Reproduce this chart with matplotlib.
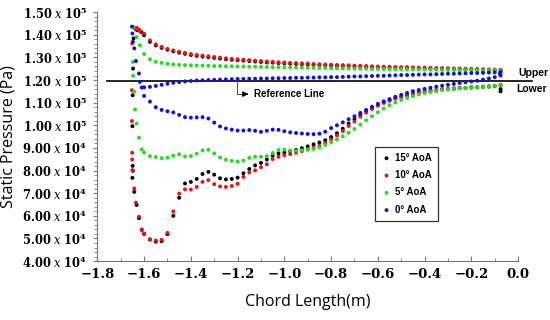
import matplotlib
matplotlib.use("Agg")
import matplotlib.pyplot as plt
from matplotlib.ticker import MultipleLocator, FuncFormatter

# chord positions (m) shared by the body of every curve
x_body = [-1.600, -1.575, -1.550, -1.525, -1.500, -1.475, -1.450, -1.425, -1.400, -1.375,
          -1.350, -1.325, -1.300, -1.275, -1.250, -1.225, -1.200, -1.175, -1.150, -1.125,
          -1.100, -1.075, -1.050, -1.025, -1.000, -0.975, -0.950, -0.925, -0.900, -0.875,
          -0.850, -0.825, -0.800, -0.775, -0.750, -0.725, -0.700, -0.675, -0.650, -0.625,
          -0.600, -0.575, -0.550, -0.525, -0.500, -0.475, -0.450, -0.425, -0.400, -0.375,
          -0.350, -0.325, -0.300, -0.275, -0.250, -0.225, -0.200, -0.175, -0.150, -0.125,
          -0.100, -0.075]

# static pressure, x 10^5 Pa
aoa15_upper = [1.398, 1.369, 1.353, 1.342, 1.334, 1.327, 1.321, 1.316, 1.311, 1.307,
               1.304, 1.301, 1.298, 1.295, 1.292, 1.290, 1.288, 1.286, 1.284, 1.282,
               1.280, 1.278, 1.277, 1.275, 1.274, 1.272, 1.271, 1.270, 1.269, 1.267,
               1.266, 1.265, 1.264, 1.263, 1.262, 1.261, 1.260, 1.259, 1.258, 1.257,
               1.256, 1.256, 1.255, 1.254, 1.254, 1.253, 1.252, 1.252, 1.251, 1.250,
               1.250, 1.249, 1.249, 1.248, 1.247, 1.247, 1.246, 1.246, 1.245, 1.244,
               1.244, 1.243]
aoa15_lower = [0.520, 0.495, 0.486, 0.488, 0.519, 0.600, 0.680, 0.743, 0.750, 0.763,
               0.785, 0.794, 0.782, 0.766, 0.761, 0.763, 0.769, 0.788, 0.807, 0.823,
               0.834, 0.849, 0.866, 0.876, 0.880, 0.885, 0.891, 0.899, 0.907, 0.916,
               0.924, 0.934, 0.948, 0.965, 0.985, 1.008, 1.027, 1.046, 1.063, 1.078,
               1.091, 1.102, 1.111, 1.119, 1.126, 1.133, 1.139, 1.144, 1.148, 1.152,
               1.155, 1.158, 1.160, 1.162, 1.164, 1.165, 1.167, 1.168, 1.170, 1.171,
               1.173, 1.176]
aoa10_upper = [1.405, 1.375, 1.358, 1.347, 1.338, 1.331, 1.325, 1.320, 1.315, 1.311,
               1.308, 1.305, 1.302, 1.299, 1.296, 1.294, 1.292, 1.290, 1.288, 1.286,
               1.284, 1.282, 1.281, 1.279, 1.278, 1.276, 1.275, 1.274, 1.273, 1.271,
               1.270, 1.269, 1.268, 1.267, 1.266, 1.265, 1.264, 1.263, 1.262, 1.261,
               1.260, 1.259, 1.259, 1.258, 1.257, 1.257, 1.256, 1.255, 1.255, 1.254,
               1.253, 1.253, 1.252, 1.251, 1.251, 1.250, 1.249, 1.249, 1.248, 1.247,
               1.246, 1.245]
aoa10_lower = [0.522, 0.497, 0.491, 0.494, 0.525, 0.620, 0.698, 0.717, 0.716, 0.728,
               0.750, 0.758, 0.740, 0.730, 0.728, 0.732, 0.742, 0.772, 0.792, 0.801,
               0.815, 0.828, 0.851, 0.861, 0.868, 0.873, 0.879, 0.886, 0.894, 0.902,
               0.909, 0.922, 0.938, 0.955, 0.975, 0.997, 1.017, 1.038, 1.056, 1.072,
               1.087, 1.099, 1.109, 1.118, 1.125, 1.132, 1.139, 1.144, 1.149, 1.153,
               1.156, 1.159, 1.161, 1.163, 1.165, 1.166, 1.168, 1.169, 1.171, 1.173,
               1.175, 1.178]
aoa5_upper = [1.315, 1.292, 1.281, 1.276, 1.272, 1.269, 1.267, 1.266, 1.265, 1.264,
              1.264, 1.263, 1.262, 1.262, 1.261, 1.261, 1.260, 1.260, 1.259, 1.259,
              1.258, 1.258, 1.257, 1.257, 1.256, 1.256, 1.255, 1.255, 1.254, 1.254,
              1.253, 1.253, 1.252, 1.252, 1.251, 1.251, 1.250, 1.250, 1.250, 1.249,
              1.249, 1.249, 1.248, 1.248, 1.248, 1.247, 1.247, 1.247, 1.246, 1.246,
              1.246, 1.245, 1.245, 1.245, 1.245, 1.244, 1.244, 1.244, 1.243, 1.243,
              1.243, 1.242]
aoa5_lower = [0.880, 0.864, 0.860, 0.855, 0.857, 0.866, 0.872, 0.862, 0.864, 0.875,
              0.889, 0.892, 0.876, 0.858, 0.848, 0.843, 0.840, 0.844, 0.856, 0.861,
              0.861, 0.864, 0.878, 0.891, 0.893, 0.889, 0.887, 0.890, 0.892, 0.896,
              0.902, 0.913, 0.925, 0.937, 0.951, 0.967, 0.984, 1.003, 1.022, 1.040,
              1.058, 1.074, 1.089, 1.101, 1.112, 1.121, 1.129, 1.136, 1.142, 1.147,
              1.151, 1.155, 1.158, 1.161, 1.163, 1.165, 1.167, 1.169, 1.170, 1.172,
              1.174, 1.176]
aoa0_upper = [1.168, 1.170, 1.174, 1.179, 1.184, 1.188, 1.191, 1.194, 1.196, 1.198,
              1.199, 1.200, 1.201, 1.202, 1.203, 1.204, 1.205, 1.205, 1.206, 1.206,
              1.207, 1.207, 1.208, 1.208, 1.209, 1.209, 1.210, 1.210, 1.211, 1.211,
              1.212, 1.212, 1.213, 1.213, 1.214, 1.215, 1.216, 1.216, 1.217, 1.218,
              1.219, 1.219, 1.220, 1.221, 1.222, 1.222, 1.223, 1.224, 1.225, 1.225,
              1.226, 1.227, 1.228, 1.228, 1.229, 1.230, 1.231, 1.231, 1.232, 1.233,
              1.234, 1.236]
aoa0_lower = [1.130, 1.105, 1.080, 1.068, 1.062, 1.057, 1.046, 1.036, 1.034, 1.035,
              1.036, 1.030, 1.012, 0.995, 0.986, 0.981, 0.977, 0.977, 0.979, 0.976,
              0.971, 0.976, 0.981, 0.980, 0.974, 0.969, 0.966, 0.964, 0.962, 0.961,
              0.963, 0.972, 0.988, 1.000, 1.013, 1.027, 1.040, 1.055, 1.068, 1.082,
              1.095, 1.106, 1.116, 1.126, 1.135, 1.143, 1.151, 1.156, 1.161, 1.166,
              1.171, 1.175, 1.179, 1.183, 1.187, 1.190, 1.194, 1.197, 1.202, 1.207,
              1.213, 1.220]

# leading edge (and trailing edge) points
aoa15_le_x = [-1.630, -1.622, -1.612, -1.645, -1.647, -1.649, -1.650, -1.649, -1.648,
              -1.650, -1.642, -1.632, -1.622, -1.610, -0.075, -0.075]
aoa15_le_p = [1.420, 1.422, 1.412, 1.384, 1.251, 1.133, 0.996, 0.821, 0.799,
              0.768, 0.706, 0.648, 0.590, 0.538, 1.160, 1.150]
aoa10_le_x = [-1.638, -1.632, -1.625, -1.618, -1.651, -1.652, -1.652, -1.651, -1.651,
              -1.650, -1.642, -1.635, -1.622, -1.610]
aoa10_le_p = [1.425, 1.431, 1.425, 1.416, 1.362, 1.155, 1.019, 0.879, 0.849,
              0.802, 0.721, 0.658, 0.596, 0.540]
aoa5_le_x = [-1.646, -1.632, -1.618, -1.648, -1.647, -1.642, -1.639, -1.632, -1.622, -1.610]
aoa5_le_p = [1.435, 1.390, 1.354, 1.280, 1.219, 1.148, 1.070, 1.008, 0.945, 0.894]
aoa0_le_x = [-1.652, -1.650, -1.648, -1.642, -1.635, -1.622, -1.618, -1.610, -0.078, -0.076]
aoa0_le_p = [1.436, 1.406, 1.369, 1.340, 1.284, 1.229, 1.192, 1.167, 1.228, 1.232]

labels = ['15° AoA', '10° AoA', '5° AoA', '0° AoA']
colors = ['#000000', '#ee1111', '#22dd22', '#1111dd']
ref_p = 1.195
ref_x = [-1.76, 0.06]

series = [
    (aoa15_le_x, aoa15_le_p, aoa15_upper, aoa15_lower),
    (aoa10_le_x, aoa10_le_p, aoa10_upper, aoa10_lower),
    (aoa5_le_x, aoa5_le_p, aoa5_upper, aoa5_lower),
    (aoa0_le_x, aoa0_le_p, aoa0_upper, aoa0_lower),
]

plt.rcParams['mathtext.fontset'] = 'dejavuserif'

fig = plt.figure(figsize=(5.5, 3.2), dpi=100)
ax = fig.add_axes([0.177, 0.184, 0.765, 0.778])

for (le_x, le_p, up, lo), lab, c in zip(series, labels, colors):
    xs = le_x + x_body + x_body
    ps = [p * 1e5 for p in le_p + up + lo]
    ax.scatter(xs, ps, s=8, color=c, edgecolors='none', label=lab, zorder=3)

# reference line and its note
ax.plot(ref_x, [ref_p * 1e5] * 2, color='black', lw=1.2, clip_on=False, zorder=2)
ax.plot([-1.202, -1.202, -1.17], [ref_p * 1e5, 1.138e5, 1.138e5], color='#555555', lw=0.8)
ax.annotate('', xy=(-1.142, 1.138e5), xytext=(-1.175, 1.138e5),
            arrowprops=dict(arrowstyle='-|>', color='black', lw=0.8, mutation_scale=8))
ax.text(-1.128, 1.138e5, 'Reference Line', fontsize=7, fontweight='bold',
        family='Liberation Sans', va='center', ha='left')
ax.text(0.0, 1.232e5, 'Upper', fontsize=7.5, fontweight='bold', family='Liberation Sans',
        va='center', ha='left', clip_on=False)
ax.text(-0.01, 1.16e5, 'Lower', fontsize=7.5, fontweight='bold', family='Liberation Sans',
        va='center', ha='left', clip_on=False)

ax.set_xlim(-1.8, 0.0)
ax.set_ylim(4e4, 1.5e5)

ax.xaxis.set_major_locator(MultipleLocator(0.2))
ax.xaxis.set_minor_locator(MultipleLocator(0.1))
ax.yaxis.set_major_locator(MultipleLocator(1e4))
ax.yaxis.set_minor_locator(MultipleLocator(2e3))


def xfmt(v, pos):
    s = '%.1f' % v
    if s == '-0.0':
        s = '0.0'
    return s.replace('-', '\u2212')


def yfmt(v, pos):
    e = 5 if v >= 1e5 - 1 else 4
    return r'$\mathbf{%.2f}\ \mathit{x}\ \mathbf{10^{%d}}$' % (v / 10 ** e, e)


ax.xaxis.set_major_formatter(FuncFormatter(xfmt))
ax.yaxis.set_major_formatter(FuncFormatter(yfmt))
ax.tick_params(axis='y', which='major', labelsize=8.3, length=3, color='#777777', pad=4)
ax.tick_params(axis='y', which='minor', length=2, color='#777777')
ax.tick_params(axis='x', which='major', labelsize=9.5, length=3.5, color='#777777',
               direction='in', pad=5)
ax.tick_params(axis='x', which='minor', length=2, color='#777777', direction='in')
for t in ax.get_xticklabels():
    t.set_family('DejaVu Serif')
    t.set_fontweight('bold')

for s in ['top', 'right']:
    ax.spines[s].set_visible(False)
for s in ['left', 'bottom']:
    ax.spines[s].set_color('#777777')
    ax.spines[s].set_linewidth(0.8)

ax.set_xlabel('Chord Length(m)', fontsize=11.5, family='Open Sans', labelpad=9)
ax.set_ylabel('Static Pressure (Pa)', fontsize=11.5, family='Open Sans', labelpad=4)

leg = ax.legend(loc='upper left', bbox_to_anchor=(0.648, 0.478), frameon=True,
                fancybox=False, edgecolor='black', markerscale=1.0,
                prop={'family': 'Liberation Sans', 'weight': 'bold', 'size': 7},
                labelspacing=0.75, handletextpad=0.3, borderpad=0.6, handlelength=1.2)
leg.get_frame().set_linewidth(0.9)

fig.savefig('out.png', dpi=100)
